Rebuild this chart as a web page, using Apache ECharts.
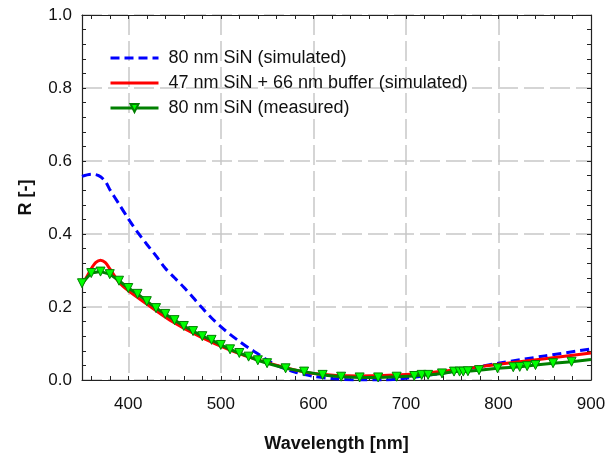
<!DOCTYPE html>
<html><head><meta charset="utf-8">
<script src="https://cdn.jsdelivr.net/npm/echarts@6/dist/echarts.min.js"></script>
<style>html,body{margin:0;padding:0;background:#fff}#c{width:608px;height:455px}</style>
</head><body><div id="c"></div>
<script>
// ---- data ----
const seriesNames = ['80 nm SiN (simulated)', '47 nm SiN + 66 nm buffer (simulated)', '80 nm SiN (measured)'];
const simSiN_x = [350,360,368,375,380,390,400,410,420,430,440,450,460,470,480,490,500,510,520,530,540,550,560,580,600,620,650,675,700,750,800,850,900];
const simSiN_y = [0.558,0.564,0.560,0.545,0.522,0.482,0.442,0.405,0.372,0.340,0.306,0.280,0.254,0.226,0.197,0.170,0.146,0.125,0.106,0.088,0.072,0.055,0.040,0.022,0.010,0.004,0.000,0.000,0.005,0.023,0.046,0.066,0.085];
const simBuf_x = [350,355,360,365,370,375,380,390,400,420,445,478,510,540,570,600,650,700,750,800,850,900];
const simBuf_y = [0.262,0.282,0.305,0.322,0.328,0.322,0.305,0.268,0.245,0.208,0.164,0.118,0.082,0.055,0.034,0.018,0.011,0.015,0.027,0.043,0.058,0.074];
const meas_x = [350,360,370,380,390,400,410,420,430,440,450,460,470,480,490,500,510,520,530,540,550,570,590,610,630,650,670,690,709,717,724,739,752,758,762,767,779,799,816,823,831,840,859,879,900];
const meas_y = [0.265,0.293,0.297,0.290,0.272,0.252,0.236,0.216,0.197,0.181,0.164,0.148,0.134,0.120,0.110,0.096,0.084,0.074,0.064,0.054,0.046,0.032,0.023,0.014,0.009,0.007,0.007,0.009,0.011,0.014,0.014,0.018,0.023,0.023,0.023,0.024,0.027,0.032,0.035,0.036,0.038,0.041,0.046,0.050,0.056];
const xLabelTicks = [400,500,600,700,800,900];
const xGridTicks = [400,500,600,700,800];
const xSmallTicks = [360,380,400,420,440,460,480,500,520,540,560,580,600,620,640,660,680,700,720,740,760,780,800,820,840,860,880];

const FONT = '"Liberation Sans", Arial, sans-serif';
const gridDash = {show:true, lineStyle:{color:'#c8c8c8', width:1.5, type:[20,6]}};
const pair = (xs, ys) => xs.map((x,i)=>[x, ys[i]]);

const chart = echarts.init(document.getElementById('c'), null, {renderer:'canvas'});
const measData = pair(meas_x, meas_y).map((p,i,a)=> i===a.length-1 ? {value:p, symbol:'none'} : p);

chart.setOption({
  animation:false,
  textStyle:{fontFamily:FONT},
  grid:{left:82, right:17, top:15, bottom:75, containLabel:false, outerBoundsMode:'none'},
  legend:{
    orient:'vertical', left:104, top:44, itemWidth:48, itemHeight:10, itemGap:7,
    textStyle:{fontFamily:FONT, fontSize:18, color:'#111', padding:[0,0,0,5]},
    data:[
      {name:seriesNames[0], itemStyle:{opacity:0}, lineStyle:{width:3, type:[9,5]}},
      {name:seriesNames[1], itemStyle:{opacity:0}, lineStyle:{width:3}},
      {name:seriesNames[2], lineStyle:{width:3}}
    ]
  },
  xAxis:[
    {type:'value', min:350, max:900, position:'bottom',
     axisLine:{show:true, lineStyle:{color:'#222', width:1.2}},
     axisTick:{show:false, customValues:xGridTicks},
     axisLabel:{customValues:xLabelTicks, fontSize:17, color:'#111', margin:16, fontFamily:FONT},
     splitLine:gridDash,
     name:'Wavelength [nm]', nameLocation:'middle', nameGap:55,
     nameTextStyle:{fontSize:18, fontWeight:'bold', color:'#111', fontFamily:FONT}},
    {type:'value', min:350, max:900, position:'bottom',
     axisLine:{show:false}, axisLabel:{show:false}, splitLine:{show:false},
     axisTick:{show:true, inside:true, length:4, customValues:xSmallTicks, lineStyle:{color:'#222'}}},
    {type:'value', min:350, max:900, position:'top',
     axisLine:{show:true, lineStyle:{color:'#222', width:1.2}}, axisLabel:{show:false}, splitLine:{show:false},
     axisTick:{show:true, inside:true, length:4, customValues:xSmallTicks, lineStyle:{color:'#222'}}}
  ],
  yAxis:[
    {type:'value', min:0, max:1, interval:0.2, position:'left',
     axisLine:{show:true, lineStyle:{color:'#222', width:1.2}},
     axisTick:{show:true, inside:true, length:4, lineStyle:{color:'#222'}},
     minorTick:{show:true, splitNumber:5, length:4, lineStyle:{color:'#222'}},
     axisLabel:{fontSize:17, color:'#111', margin:10, formatter:v=>v.toFixed(1), fontFamily:FONT},
     splitLine:gridDash,
     name:'R [-]', nameLocation:'middle', nameGap:47,
     nameTextStyle:{fontSize:18, fontWeight:'bold', color:'#111', fontFamily:FONT}},
    {type:'value', min:0, max:1, interval:0.2, position:'right',
     axisLine:{show:true, lineStyle:{color:'#222', width:1.2}},
     axisTick:{show:true, inside:true, length:4, lineStyle:{color:'#222'}},
     minorTick:{show:true, splitNumber:5, length:4, lineStyle:{color:'#222'}},
     axisLabel:{show:false}, splitLine:{show:false}}
  ],
  series:[
    {name:seriesNames[0], type:'line', xAxisIndex:0, yAxisIndex:0, data:pair(simSiN_x, simSiN_y),
     smooth:0.3, showSymbol:false, symbol:'none',
     lineStyle:{color:'#0000ff', width:3, type:[9,5]}, itemStyle:{color:'#0000ff'}},
    {name:seriesNames[1], type:'line', xAxisIndex:0, yAxisIndex:0, data:pair(simBuf_x, simBuf_y),
     smooth:0.3, symbol:'none',
     lineStyle:{color:'#ff0000', width:3}, itemStyle:{color:'#ff0000'}},
    {name:seriesNames[2], type:'line', xAxisIndex:0, yAxisIndex:0, data:measData,
     symbol:'triangle', symbolRotate:180, symbolSize:9,
     lineStyle:{color:'#008000', width:3},
     itemStyle:{color:'#00ff00', borderColor:'#008000', borderWidth:1}}
  ]
});
</script></body></html>
